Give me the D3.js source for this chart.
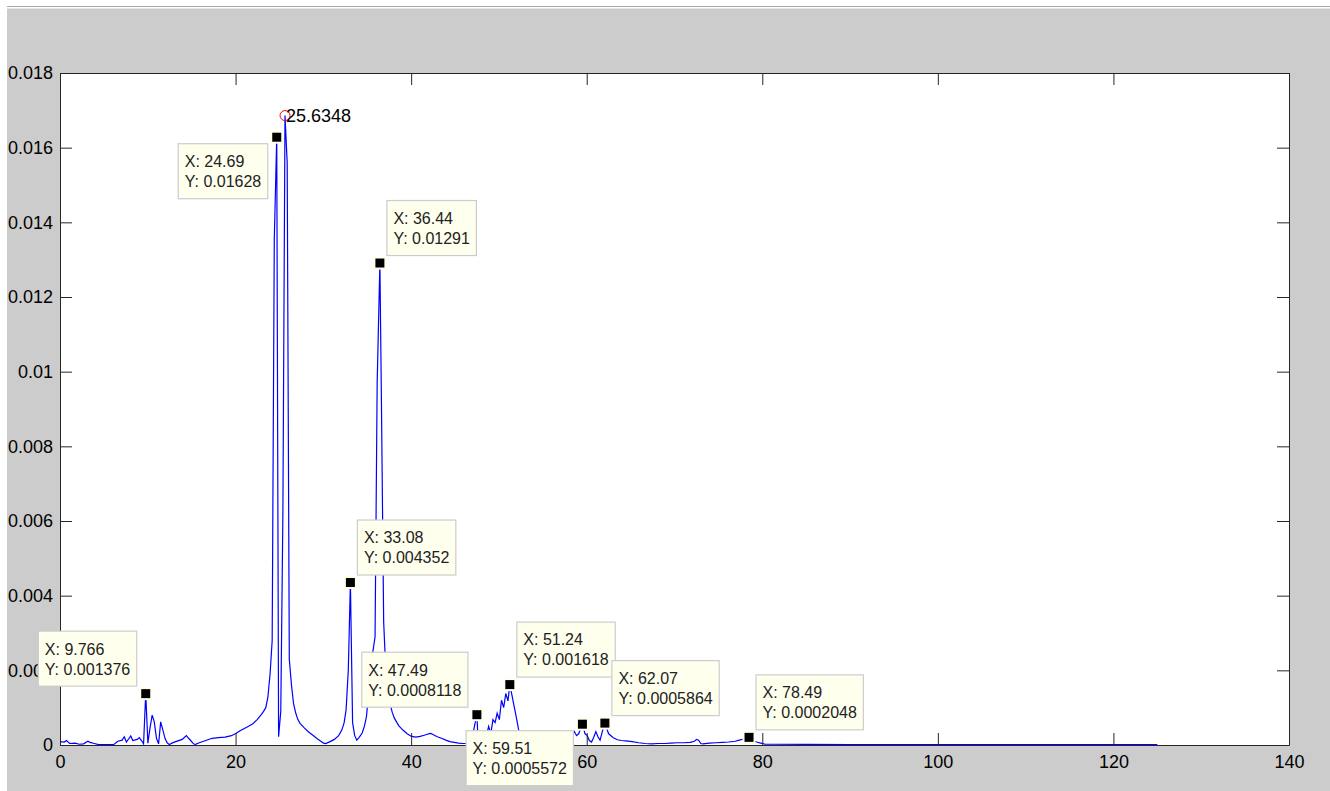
<!DOCTYPE html>
<html>
<head>
<meta charset="utf-8">
<script src="https://cdn.jsdelivr.net/npm/d3@7"></script>
<style>
  body { margin: 0; background: #fff; }
  text { font-family: "Liberation Sans", Arial, sans-serif; }
</style>
</head>
<body>
<div id="chart"></div>
<script>
// Spectrum values (frequency, amplitude)
const freq = [0.00, 0.49, 0.73, 1.10, 1.71, 2.20, 2.69, 3.17, 3.42, 3.91, 4.39, 5.13, 6.10, 6.59, 7.08, 7.32, 7.57, 7.81, 8.06, 8.30,
  8.79, 9.03, 9.28, 9.52, 9.766, 10.01, 10.25, 10.50, 10.74, 10.99, 11.23, 11.47, 11.72, 11.96, 12.21, 12.45, 12.94, 13.43, 13.92, 14.16,
  14.40, 14.65, 14.89, 15.14, 15.38, 15.87, 16.60, 17.33, 18.07, 18.80, 19.53, 20.02, 20.51, 21.00, 21.48, 21.97, 22.46, 22.95, 23.19, 23.44,
  23.68, 23.93, 24.17, 24.41, 24.69, 24.90, 25.15, 25.39, 25.63, 25.88, 26.12, 26.37, 26.61, 26.86, 27.10, 27.34, 27.83, 28.32, 28.81, 29.30,
  29.79, 30.03, 30.27, 30.76, 31.25, 31.74, 32.10, 32.37, 32.59, 32.84, 33.08, 33.33, 33.57, 33.81, 34.06, 34.42, 34.67, 34.91, 35.16, 35.40,
  35.64, 35.89, 36.13, 36.44, 36.62, 36.87, 37.11, 37.35, 37.60, 37.84, 38.09, 38.58, 39.06, 39.55, 40.04, 40.53, 41.02, 41.50, 41.99, 42.24,
  42.48, 42.97, 43.46, 43.95, 44.43, 44.92, 45.41, 45.90, 46.39, 46.88, 47.12, 47.49, 47.61, 47.85, 48.10, 48.58, 48.83, 49.07, 49.32, 49.56,
  49.80, 50.05, 50.29, 50.54, 50.78, 51.03, 51.24, 51.51, 51.76, 52.00, 52.25, 52.73, 53.22, 53.71, 54.44, 55.18, 55.91, 56.64, 57.37, 57.86,
  58.35, 58.59, 58.84, 59.08, 59.51, 59.81, 60.06, 60.30, 60.55, 60.79, 61.04, 61.28, 61.52, 61.77, 62.07, 62.26, 62.50, 62.99, 63.48, 63.96,
  64.45, 65.19, 65.92, 66.65, 67.38, 68.12, 68.85, 69.58, 70.31, 71.04, 71.78, 72.27, 72.51, 72.75, 73.00, 73.24, 73.97, 74.71, 75.44, 76.17,
  76.90, 77.39, 77.88, 78.12, 78.49, 78.86, 79.35, 79.83, 80.32, 81.05, 85, 90, 95, 100, 105, 110, 115, 120, 125];

const amp = [0.00009, 0.00008, 0.00012, 0.00004, 0.00005, 0.00002, 0.00003, 0.00010, 0.00007, 0.00004, 0.00001, 0.00001, 0.00001, 0.00010, 0.00013, 0.00022, 0.00008, 0.00016, 0.00024, 0.00012,
  0.00015, 0.00020, 0.00012, 0.00003, 0.001376, 0.00005, 0.00045, 0.00080, 0.00062, 0.00018, 0.00003, 0.00062, 0.00040, 0.00018, 0.00006, 0.00001, 0.00007, 0.00011, 0.00015, 0.00020,
  0.00025, 0.00018, 0.00012, 0.00005, 0.00001, 0.00006, 0.00012, 0.00018, 0.00020, 0.00021, 0.00025, 0.00031, 0.00038, 0.00044, 0.00050, 0.00057, 0.00068, 0.00082, 0.00090, 0.00100,
  0.00128, 0.00190, 0.00280, 0.01353, 0.01628, 0.00022, 0.00090, 0.00620, 0.01686, 0.01560, 0.00230, 0.00160, 0.00110, 0.00085, 0.00068, 0.00058, 0.00046, 0.00035, 0.00026, 0.00017,
  0.00009, 0.00005, 0.00004, 0.00009, 0.00015, 0.00025, 0.00040, 0.00060, 0.00094, 0.00200, 0.004352, 0.00060, 0.00025, 0.00013, 0.00020, 0.00032, 0.00050, 0.00076, 0.00140, 0.00210,
  0.00250, 0.00290, 0.00970, 0.01291, 0.00910, 0.00330, 0.00200, 0.00140, 0.00110, 0.00088, 0.00072, 0.00052, 0.00040, 0.00030, 0.00023, 0.00021, 0.00023, 0.00026, 0.00030, 0.00031,
  0.00028, 0.00022, 0.00018, 0.00013, 0.00009, 0.00007, 0.00005, 0.00004, 0.00004, 0.00010, 0.00040, 0.0008118, 0.00020, 0.00008, 0.00012, 0.00025, 0.00050, 0.00030, 0.00068, 0.00060,
  0.00085, 0.00068, 0.00120, 0.00100, 0.00138, 0.00118, 0.001618, 0.00130, 0.00100, 0.00072, 0.00040, 0.00022, 0.00014, 0.00010, 0.00008, 0.00007, 0.00008, 0.00010, 0.00013, 0.00020,
  0.00030, 0.00036, 0.00025, 0.00030, 0.0005572, 0.00030, 0.00025, 0.00012, 0.00008, 0.00020, 0.00036, 0.00022, 0.00013, 0.00035, 0.0005864, 0.00045, 0.00030, 0.00020, 0.00014, 0.00012,
  0.00011, 0.00009, 0.00006, 0.00004, 0.00003, 0.00004, 0.00004, 0.00005, 0.00006, 0.00006, 0.00007, 0.00010, 0.00015, 0.00013, 0.00004, 0.00003, 0.00005, 0.00006, 0.00007, 0.00008,
  0.00010, 0.00013, 0.00016, 0.00018, 0.0002048, 0.00012, 0.00008, 0.00005, 0.00002, 0.00002, 0.000015, 0.00001, 0.00001, 0.00001, 0.00001, 0.000008, 0.000008, 0.000008, 0.000008];

// Data tips
const tipX = [9.766, 24.69, 36.44, 33.08, 47.49, 51.24, 59.51, 62.07, 78.49];
const tipY = [0.001376, 0.01628, 0.01291, 0.004352, 0.0008118, 0.001618, 0.0005572, 0.0005864, 0.0002048];
const tipXText = ["9.766", "24.69", "36.44", "33.08", "47.49", "51.24", "59.51", "62.07", "78.49"];
const tipYText = ["0.001376", "0.01628", "0.01291", "0.004352", "0.0008118", "0.001618", "0.0005572", "0.0005864", "0.0002048"];
// which side of the point each tip box sits on
const tipSide = [["left", "up"], ["left", "down"], ["right", "up"], ["right", "up"], ["left", "up"],
  ["right", "up"], ["left", "down"], ["right", "up"], ["right", "up"]];

// Peak marked with a red circle
const peakX = 25.6348;
const peakY = 0.01686;
const peakLabel = "25.6348";

// Ticks
const xTicks = [0, 20, 40, 60, 80, 100, 120, 140];
const yTicks = [0, 0.002, 0.004, 0.006, 0.008, 0.01, 0.012, 0.014, 0.016, 0.018];

// Layout
const W = 1330, H = 791;
const margin = {top: 73, right: 41, bottom: 46, left: 60};
const width = W - margin.left - margin.right;
const height = H - margin.top - margin.bottom;

const svg = d3.select("#chart").append("svg")
    .attr("width", W)
    .attr("height", H);

// Figure background
svg.append("rect").attr("x", 7).attr("y", 9).attr("width", W - 7).attr("height", H - 9).attr("fill", "#cccccc");
svg.append("line").attr("x1", 7).attr("x2", W).attr("y1", 6.5).attr("y2", 6.5).attr("stroke", "#a8a8a8");
svg.append("line").attr("x1", 7).attr("x2", W).attr("y1", 8.5).attr("y2", 8.5).attr("stroke", "#e6e6e6");

const g = svg.append("g")
    .attr("transform", `translate(${margin.left},${margin.top})`);

g.append("rect")
    .attr("width", width)
    .attr("height", height)
    .attr("fill", "#ffffff");

// Scales
const x = d3.scaleLinear().domain([0, 140]).range([0, width]);
const y = d3.scaleLinear().domain([0, 0.018]).range([height, 0]);

const data = freq.map((f, i) => ({f: f, v: amp[i]}));

// Spectrum line
g.append("path")
    .datum(data)
    .attr("fill", "none")
    .attr("stroke", "#0000ff")
    .attr("stroke-width", 1.2)
    .attr("d", d3.line()
        .x(d => x(d.f))
        .y(d => y(d.v)));

// Axes (MATLAB style: ticks inward on all four sides)
const fmt = d => String(+d.toFixed(4));

function styleAxis(sel) {
    sel.select(".domain").attr("stroke", "#262626");
    sel.selectAll(".tick line").attr("stroke", "#262626");
    sel.selectAll(".tick text").attr("fill", "#000").style("font-size", "18px");
}

g.append("g")
    .attr("transform", `translate(0,${height})`)
    .call(d3.axisBottom(x).tickValues(xTicks).tickFormat(fmt).tickSize(-12).tickSizeOuter(0).tickPadding(10))
    .call(styleAxis);

g.append("g")
    .call(d3.axisTop(x).tickValues(xTicks).tickFormat("").tickSize(-12).tickSizeOuter(0))
    .call(styleAxis);

g.append("g")
    .call(d3.axisLeft(y).tickValues(yTicks).tickFormat(fmt).tickSize(-12).tickSizeOuter(0).tickPadding(7))
    .call(styleAxis);

g.append("g")
    .attr("transform", `translate(${width},0)`)
    .call(d3.axisRight(y).tickValues(yTicks).tickFormat("").tickSize(-12).tickSizeOuter(0))
    .call(styleAxis);

// Red circle at the main peak with its label
g.append("circle")
    .attr("cx", x(peakX))
    .attr("cy", y(peakY))
    .attr("r", 5)
    .attr("fill", "none")
    .attr("stroke", "#ff0000")
    .attr("stroke-width", 1);

g.append("text")
    .attr("x", x(peakX) + 1)
    .attr("y", y(peakY) + 6)
    .style("font-size", "18px")
    .attr("fill", "#000")
    .text(peakLabel);

// Data tips
const tips = tipX.map((tx, i) => ({x: tx, y: tipY[i], l1: "X: " + tipXText[i], l2: "Y: " + tipYText[i], side: tipSide[i]}));

tips.forEach(function(d) {
    const px = x(d.x), py = y(d.y);
    const tip = g.append("g");
    const box = tip.append("rect")
        .attr("fill", "#ffffee")
        .attr("stroke", "#cccccc")
        .attr("stroke-width", 1.2);
    const t1 = tip.append("text").style("font-size", "16px").attr("fill", "#222").text(d.l1);
    const t2 = tip.append("text").style("font-size", "16px").attr("fill", "#222").text(d.l2);
    const bw = Math.max(t1.node().getComputedTextLength(), t2.node().getComputedTextLength()) + 13;
    const bh = 55;
    const bx = d.side[0] === "right" ? px + 7 : px - 9 - bw;
    const by = d.side[1] === "up" ? py - 7.5 - bh : py + 6.5;
    box.attr("x", bx).attr("y", by).attr("width", bw).attr("height", bh);
    t1.attr("x", bx + 6.5).attr("y", by + 23.4);
    t2.attr("x", bx + 6.5).attr("y", by + 43.4);

    g.append("rect")
        .attr("x", px - 5.5)
        .attr("y", py - 5.5)
        .attr("width", 11)
        .attr("height", 11)
        .attr("fill", "#000")
        .attr("stroke", "#ffffee")
        .attr("stroke-width", 2);
});
</script>
</body>
</html>
